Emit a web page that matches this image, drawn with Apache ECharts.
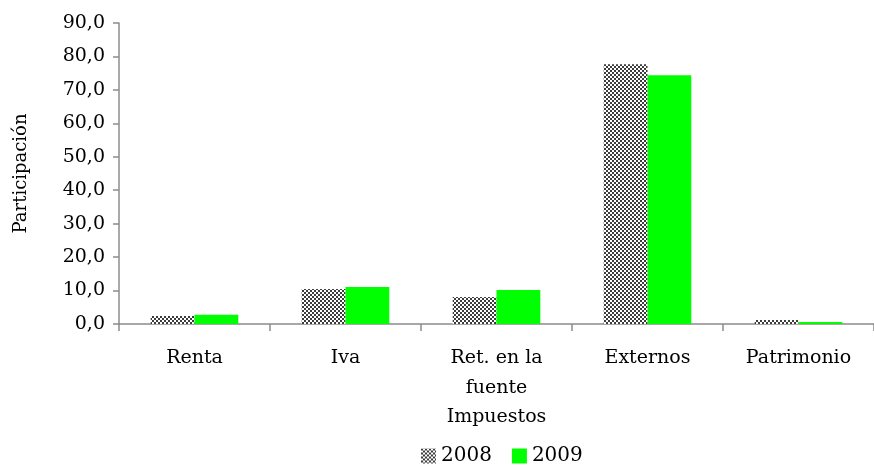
<!DOCTYPE html>
<html>
<head>
<meta charset="utf-8">
<script src="https://cdn.jsdelivr.net/npm/echarts@6/dist/echarts.min.js"></script>
<style>
  html, body { margin: 0; padding: 0; background: #fff; }
  #main { width: 874px; height: 465px; }
</style>
</head>
<body>
<div id="main"></div>
<script>
var categories = ['Renta', 'Iva', 'Ret. en la\nfuente', 'Externos', 'Patrimonio'];
var values2008 = [2.4, 10.5, 8.1, 77.7, 1.2];
var values2009 = [2.8, 11.1, 10.2, 74.4, 0.6];
var yTicks = [0, 10, 20, 30, 40, 50, 60, 70, 80, 90];

// checkerboard pattern for 2008
function makeChecker() {
  var c = document.createElement('canvas');
  c.width = 4; c.height = 4;
  var ctx = c.getContext('2d');
  ctx.fillStyle = '#ffffff';
  ctx.fillRect(0, 0, 4, 4);
  ctx.fillStyle = '#3c3c3c';
  ctx.fillRect(0, 0, 2, 2);
  ctx.fillRect(2, 2, 2, 2);
  return c;
}

var font = 'DejaVu Serif';
var chart = echarts.init(document.getElementById('main'), null, { renderer: 'canvas' });

var option = {
  animation: false,
  textStyle: { fontFamily: font, color: '#000' },
  grid: { left: 119, right: 0, top: 23, bottom: 141, containLabel: false, outerBoundsMode: 'none' },
  legend: {
    top: 441,
    left: 416,
    icon: 'rect',
    itemWidth: 15,
    itemHeight: 15,
    itemGap: 20,
    textStyle: { fontFamily: font, fontSize: 20, color: '#000' },
    data: ['2008', '2009']
  },
  xAxis: {
    type: 'category',
    data: categories,
    name: 'Impuestos',
    nameLocation: 'middle',
    nameGap: 76,
    nameTextStyle: { fontFamily: font, fontSize: 19, color: '#000' },
    axisLine: { lineStyle: { color: '#8c8c8c', width: 1.5 } },
    axisTick: { show: true, length: 7, lineStyle: { color: '#8c8c8c', width: 1.5 } },
    axisLabel: { fontFamily: font, fontSize: 19, color: '#000', margin: 19, lineHeight: 30, interval: 0, verticalAlign: 'top' }
  },
  yAxis: {
    type: 'value',
    min: 0,
    max: 90,
    interval: 10,
    name: 'Participación',
    nameLocation: 'middle',
    nameGap: 89,
    nameTextStyle: { fontFamily: font, fontSize: 18, color: '#000' },
    axisLine: { show: true, lineStyle: { color: '#8c8c8c', width: 1.5 } },
    axisTick: { show: true, length: 6, lineStyle: { color: '#8c8c8c', width: 1.5 } },
    splitLine: { show: false },
    axisLabel: {
      fontFamily: font, fontSize: 19, color: '#000', margin: 14,
      formatter: function (v) { return yTicks.indexOf(v) >= 0 ? v.toFixed(1).replace('.', ',') : ''; }
    }
  },
  series: [
    {
      name: '2008',
      type: 'bar',
      data: values2008,
      barGap: '0%',
      barCategoryGap: '42%',
      itemStyle: { color: { image: makeChecker(), repeat: 'repeat' } }
    },
    {
      name: '2009',
      type: 'bar',
      data: values2009,
      barGap: '0%',
      barCategoryGap: '42%',
      itemStyle: { color: '#00ff00' }
    }
  ]
};
chart.setOption(option);
</script>
</body>
</html>
